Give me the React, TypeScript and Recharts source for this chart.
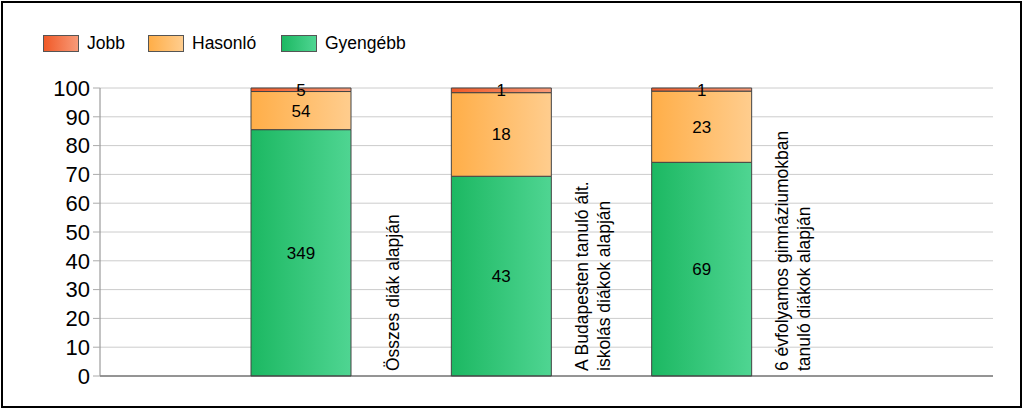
import React from 'react';
import {
  Bar,
  BarChart,
  CartesianGrid,
  LabelList,
  XAxis,
  YAxis,
} from 'recharts';

const categories = [
  ['Összes diák alapján'],
  ['A Budapesten tanuló ált.', 'iskolás diákok alapján'],
  ['6 évfolyamos gimnáziumokban', 'tanuló diákok alapján'],
];
const gyengebb = [349, 43, 69];
const hasonlo = [54, 18, 23];
const jobb = [5, 1, 1];
const yTicks = [0, 10, 20, 30, 40, 50, 60, 70, 80, 90, 100];

const series = [
  { key: 'jobb', name: 'Jobb', from: '#f05a28', to: '#f89a78' },
  { key: 'hasonlo', name: 'Hasonló', from: '#ffae48', to: '#ffcd8e' },
  { key: 'gyengebb', name: 'Gyengébb', from: '#1cb862', to: '#4fd592' },
];

const data = categories.map((lines, i) => {
  const total = gyengebb[i] + hasonlo[i] + jobb[i];
  return {
    name: lines.join(' '),
    gyengebb: (gyengebb[i] / total) * 100,
    hasonlo: (hasonlo[i] / total) * 100,
    jobb: (jobb[i] / total) * 100,
    gyengebbN: gyengebb[i],
    hasonloN: hasonlo[i],
    jobbN: jobb[i],
  };
});

const font = '"Liberation Sans", Arial, sans-serif';

function CategoryTick(props: any) {
  const { x, y, index } = props;
  const lines = categories[index] || [];
  return (
    <g transform={`translate(${x},${y - 5}) rotate(-90)`}>
      {lines.map((line, i) => (
        <text
          key={i}
          x={0}
          y={91.5 + (i - (lines.length - 1) / 2) * 22}
          textAnchor="start"
          dominantBaseline="central"
          fontSize={17.5}
          fontFamily={font}
          fill="#000"
        >
          {line}
        </text>
      ))}
    </g>
  );
}

function Legend() {
  const xs = [43, 148, 281];
  return (
    <>
      {series.map((s, i) => (
        <div
          key={s.key}
          style={{
            position: 'absolute',
            left: xs[i],
            top: 33,
            display: 'flex',
            alignItems: 'center',
            fontFamily: font,
            fontSize: 17.5,
            color: '#000',
          }}
        >
          <span
            style={{
              width: 34,
              height: 15,
              border: '1px solid #555',
              background: `linear-gradient(to right, ${s.from}, ${s.to})`,
              marginRight: 8,
              display: 'inline-block',
            }}
          />
          {s.name}
        </div>
      ))}
    </>
  );
}

export default function App() {
  return (
    <div
      style={{
        position: 'absolute',
        left: 0,
        top: 0,
        width: 1024,
        height: 410,
        background: '#fff',
        overflow: 'hidden',
      }}
    >
      <div
        style={{
          position: 'absolute',
          left: 1,
          top: 1,
          width: 1021,
          height: 407,
          border: '2px solid #000',
          boxSizing: 'border-box',
        }}
      />
      <Legend />
      <div style={{ position: 'absolute', left: 0, top: 0 }}>
        <BarChart
          width={1024}
          height={410}
          data={data}
          margin={{ top: 88, right: 31, bottom: 0, left: 0 }}
          barCategoryGap={0}
        >
          <defs>
            {series.map((s) => (
              <linearGradient key={s.key} id={`g-${s.key}`} x1="0" y1="0" x2="1" y2="0">
                <stop offset="0%" stopColor={s.from} />
                <stop offset="100%" stopColor={s.to} />
              </linearGradient>
            ))}
          </defs>
          <CartesianGrid vertical={false} stroke="#cccccc" />
          <XAxis
            dataKey="name"
            height={34}
            padding={{ left: 101, right: 191 }}
            tickLine={false}
            tickSize={0}
            tickMargin={0}
            axisLine={{ stroke: '#444' }}
            tick={(p: any) => <CategoryTick {...p} />}
            interval={0}
          />
          <YAxis
            width={100}
            domain={[0, 100]}
            ticks={yTicks}
            interval={0}
            tickSize={7}
            tickMargin={3}
            axisLine={{ stroke: '#888' }}
            tickLine={{ stroke: '#aaa' }}
            tick={{ fill: '#000', fontSize: 22, fontFamily: font }}
          />
          {[...series].reverse().map((s) => (
            <Bar
              key={s.key}
              dataKey={s.key}
              name={s.name}
              stackId="a"
              barSize={100}
              fill={`url(#g-${s.key})`}
              stroke="#444"
              strokeWidth={1}
              isAnimationActive={false}
            >
              <LabelList
                dataKey={`${s.key}N`}
                position="center"
                fill="#000"
                fontSize={17}
                fontFamily={font}
              />
            </Bar>
          ))}
        </BarChart>
      </div>
    </div>
  );
}
